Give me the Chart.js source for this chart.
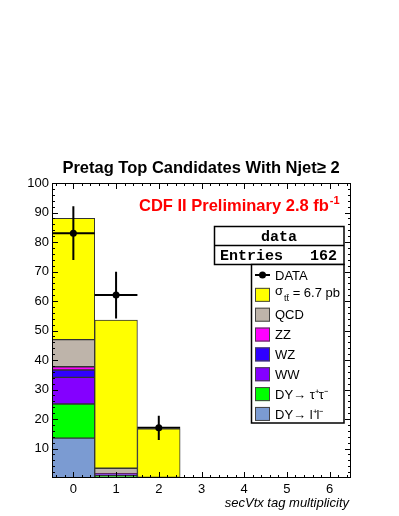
<!DOCTYPE html>
<html>
<head>
<meta charset="utf-8">
<script src="https://cdn.jsdelivr.net/npm/chart.js@4.4.1/dist/chart.umd.min.js"></script>
<style>
html, body { margin: 0; padding: 0; background: #fff; }
canvas { display: block; }
</style>
</head>
<body>
<canvas id="c" width="399" height="516"></canvas>
<script>
// bins of the secVtx tag multiplicity and the stacked expectations
const bins = [0, 1, 2];
const xTicks = [0, 1, 2, 3, 4, 5, 6];
const yTicks = [0, 10, 20, 30, 40, 50, 60, 70, 80, 90, 100];

const dyLL  = [13.5, 0.3, 0.0];
const dyTT  = [11.6, 0.6, 0.0];
const ww    = [9.0, 0.3, 0.0];
const wz    = [2.5, 0.15, 0.0];
const zz    = [1.1, 0.1, 0.0];
const qcd   = [9.2, 1.85, 0.2];
const ttbar = [41.1, 50.2, 16.5];

const dataCounts = [83, 62, 17];
const dataErrors = [9.1, 7.9, 4.1];
const entries = 162;

const FONT = '"Liberation Sans", Helvetica, Arial, sans-serif';
const MONO = '"Liberation Mono", "Courier New", monospace';

function pts(vals) {
    return bins.map((b, i) => ({ x: b, y: vals[i] }));
}

function mcSet(label, vals, color) {
    return {
        type: 'bar', label, data: pts(vals), stack: 'mc', order: 1,
        backgroundColor: color, borderColor: '#333', borderWidth: 1,
        borderSkipped: false, barPercentage: 1, categoryPercentage: 1
    };
}

const rootPlugin = {
    id: 'rootStyle',
    beforeDatasetDraw(chart, args) {
        if (args.meta.type !== 'line') return;
        const { ctx } = chart;
        const x = chart.scales.x, y = chart.scales.y;
        ctx.save();
        ctx.strokeStyle = '#000';
        ctx.lineWidth = 2;
        bins.forEach((b, i) => {
            const cx = x.getPixelForValue(b);
            const cy = y.getPixelForValue(dataCounts[i]);
            ctx.beginPath();
            ctx.moveTo(x.getPixelForValue(b - 0.5), cy);
            ctx.lineTo(x.getPixelForValue(b + 0.5), cy);
            ctx.moveTo(cx, y.getPixelForValue(dataCounts[i] - dataErrors[i]));
            ctx.lineTo(cx, y.getPixelForValue(dataCounts[i] + dataErrors[i]));
            ctx.stroke();
        });
        ctx.restore();
    },
    afterDraw(chart) {
        const { ctx, chartArea: a } = chart;
        const x = chart.scales.x, y = chart.scales.y;
        ctx.save();
        // frame
        ctx.strokeStyle = '#000';
        ctx.lineWidth = 1;
        ctx.strokeRect(a.left + 0.5, a.top + 0.5, a.right - a.left - 1, a.bottom - a.top - 1);
        // inward ticks, ROOT style
        ctx.beginPath();
        for (let i = -2; i <= 32; i++) {
            const px = Math.round(x.getPixelForValue(i * 0.2)) + 0.5;
            const len = i % 5 === 0 ? 6 : 3;
            ctx.moveTo(px, a.bottom); ctx.lineTo(px, a.bottom - len);
            ctx.moveTo(px, a.top); ctx.lineTo(px, a.top + len);
        }
        for (let i = 1; i < 50; i++) {
            const py = Math.round(y.getPixelForValue(i * 2)) + 0.5;
            const len = i % 5 === 0 ? 6 : 3;
            ctx.moveTo(a.left, py); ctx.lineTo(a.left + len, py);
            ctx.moveTo(a.right, py); ctx.lineTo(a.right - len, py);
        }
        ctx.stroke();

        // title
        ctx.fillStyle = '#000';
        ctx.font = 'bold 16.5px ' + FONT;
        ctx.textAlign = 'center';
        ctx.textBaseline = 'alphabetic';
        ctx.fillText('Pretag Top Candidates With Njet\u2265 2', 201, 173);

        // CDF label
        ctx.fillStyle = '#ff0000';
        ctx.textAlign = 'left';
        ctx.font = 'bold 16.5px ' + FONT;
        const cdf = 'CDF II Preliminary 2.8 fb';
        ctx.fillText(cdf, 139, 211);
        const w = ctx.measureText(cdf).width;
        ctx.font = 'bold 11px ' + FONT;
        ctx.fillText('-1', 139 + w + 1, 204);

        // axis title
        ctx.fillStyle = '#000';
        ctx.font = 'italic 13px ' + FONT;
        ctx.textAlign = 'right';
        ctx.fillText('secVtx tag multiplicity', 349, 507);

        // stats box
        ctx.fillStyle = '#fff';
        ctx.fillRect(214, 226, 130, 38);
        ctx.lineWidth = 1.5;
        ctx.strokeRect(214.5, 226.5, 129.5, 38);
        ctx.beginPath();
        ctx.moveTo(214, 245.5); ctx.lineTo(344, 245.5);
        ctx.stroke();
        ctx.fillStyle = '#000';
        ctx.font = 'bold 15px ' + MONO;
        ctx.textAlign = 'center';
        ctx.fillText('data', 279, 241);
        ctx.textAlign = 'left';
        ctx.fillText('Entries', 220, 260);
        ctx.textAlign = 'right';
        ctx.fillText(String(entries), 337, 260);

        // legend box
        ctx.fillStyle = '#fff';
        ctx.fillRect(251, 264, 93, 159);
        ctx.strokeRect(251.5, 264.5, 92.5, 158.5);
        const rowY = r => 275 + r * 19.85;
        ctx.textBaseline = 'middle';
        ctx.textAlign = 'left';
        // DATA marker
        ctx.strokeStyle = '#000';
        ctx.lineWidth = 2;
        ctx.beginPath();
        ctx.moveTo(255, rowY(0)); ctx.lineTo(270, rowY(0));
        ctx.stroke();
        ctx.fillStyle = '#000';
        ctx.beginPath();
        ctx.arc(262.5, rowY(0), 3.5, 0, Math.PI * 2);
        ctx.fill();
        ctx.font = '13px ' + FONT;
        ctx.fillText('DATA', 275, rowY(0) + 1);

        const mc = chart.data.datasets.filter(d => d.stack === 'mc').slice().reverse();
        mc.forEach((d, k) => {
            const cy = rowY(k + 1);
            ctx.fillStyle = d.backgroundColor;
            ctx.fillRect(255, cy - 7, 15, 14);
            ctx.strokeStyle = '#444';
            ctx.lineWidth = 1;
            ctx.strokeRect(255.5, cy - 6.5, 14, 13);
            ctx.fillStyle = '#000';
            ctx.font = '13px ' + FONT;
            if (d.label.includes('_')) {
                const [head, tail] = d.label.split('_');
                const sub = tail.slice(0, tail.indexOf(' '));
                const rest = tail.slice(tail.indexOf(' '));
                ctx.fillText(head, 275, cy - 3);
                let px = 275 + ctx.measureText(head).width + 1;
                ctx.font = '9px ' + FONT;
                ctx.fillText(sub, px, cy + 4);
                px += ctx.measureText(sub).width;
                ctx.font = '13px ' + FONT;
                ctx.fillText(rest, px, cy - 1);
            } else {
                ctx.fillText(d.label, 275, cy + 1);
            }
        });
        ctx.restore();
    }
};

new Chart(document.getElementById('c'), {
    data: {
        datasets: [
            mcSet('DY\u2192 l\u207Al\u207B', dyLL, '#7b9bd2'),
            mcSet('DY\u2192 \u03C4\u207A\u03C4\u207B', dyTT, '#00ff00'),
            mcSet('WW', ww, '#8400ff'),
            mcSet('WZ', wz, '#2f00ff'),
            mcSet('ZZ', zz, '#ff00ff'),
            mcSet('QCD', qcd, '#beb4aa'),
            mcSet('\u03C3_tt\u0304 = 6.7 pb', ttbar, '#ffff00'),
            {
                type: 'line', label: 'DATA', data: pts(dataCounts), stack: 'data', order: 0,
                showLine: false, pointRadius: 3.5, pointHoverRadius: 3.5,
                pointBackgroundColor: '#000', pointBorderColor: '#000', borderWidth: 0
            }
        ]
    },
    options: {
        responsive: false,
        animation: false,
        devicePixelRatio: 1,
        layout: { padding: { top: 183, right: 48, left: 0, bottom: 0 } },
        plugins: { legend: { display: false }, tooltip: { enabled: false } },
        scales: {
            x: {
                type: 'linear', min: -0.5, max: 6.5, stacked: true, offset: false,
                afterBuildTicks: s => { s.ticks = xTicks.map(v => ({ value: v })); },
                afterFit: s => { s.height = 38; },
                grid: { display: false, drawTicks: false, offset: false },
                border: { display: false },
                ticks: { autoSkip: false, maxRotation: 0, padding: 4, color: '#000', font: { family: FONT, size: 13 } }
            },
            y: {
                type: 'linear', min: 0, max: 100, stacked: true,
                afterBuildTicks: s => { s.ticks = yTicks.map(v => ({ value: v })); },
                afterFit: s => { s.width = 52; },
                grid: { display: false, drawTicks: false },
                border: { display: false },
                ticks: {
                    padding: 3, color: '#000', font: { family: FONT, size: 13 },
                    callback: v => (v === 0 ? '' : String(v))
                }
            }
        }
    },
    plugins: [rootPlugin]
});
</script>
</body>
</html>
